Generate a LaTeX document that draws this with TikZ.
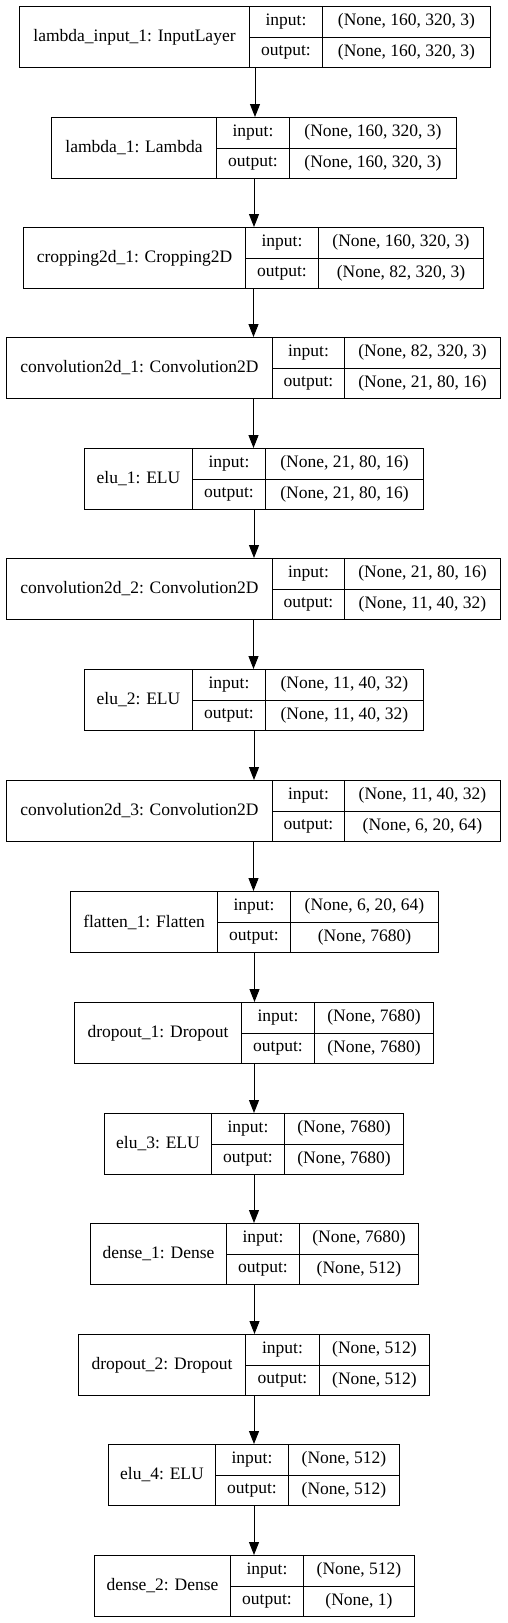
\documentclass[tikz,border=0pt]{standalone}
\usepackage{fontspec}
\setmainfont{Liberation Serif}
\usetikzlibrary{arrows.meta}

\tikzset{
  cell/.style={draw, line width=1pt, inner sep=0pt, anchor=north west, font=\fontsize{17.5}{20}\selectfont},
  flow/.style={line width=1pt, -{Triangle[length=13pt,width=10pt]}}
}

% one layer record: name, top, left, 1st divider, 2nd divider, right, label, input, output
\newcommand{\kerasbox}[9]{%
  \node[cell, minimum width={#6pt-#3pt}, minimum height=61pt] (#1) at (#3,#2) {};
  \node[cell, minimum width={#4pt-#3pt}, minimum height=61pt] (#1-name) at (#3,#2) {#7};
  \node[cell, minimum width={#5pt-#4pt}, minimum height=30.5pt] (#1-inl) at (#4,#2) {input:};
  \node[cell, minimum width={#5pt-#4pt}, minimum height=30.5pt] (#1-outl) at (#4,#2+30.5) {output:};
  \node[cell, minimum width={#6pt-#5pt}, minimum height=30.5pt] (#1-in) at (#5,#2) {#8};
  \node[cell, minimum width={#6pt-#5pt}, minimum height=30.5pt] (#1-out) at (#5,#2+30.5) {#9};
}

\begin{document}
\begin{tikzpicture}[x=1pt,y=-1pt]
\useasboundingbox (0,0) rectangle (508,1623);

%Layer records
\kerasbox{l0}{6}{19}{249}{322}{490}{lambda\_input\_1: InputLayer}{(None, 160, 320, 3)}{(None, 160, 320, 3)}
\kerasbox{l1}{117}{51}{216}{289}{456}{lambda\_1: Lambda}{(None, 160, 320, 3)}{(None, 160, 320, 3)}
\kerasbox{l2}{227}{23}{245}{318}{483}{cropping2d\_1: Cropping2D}{(None, 160, 320, 3)}{(None, 82, 320, 3)}
\kerasbox{l3}{337}{6}{272}{344}{500}{convolution2d\_1: Convolution2D}{(None, 82, 320, 3)}{(None, 21, 80, 16)}
\kerasbox{l4}{448}{84}{192}{265}{423}{elu\_1: ELU}{(None, 21, 80, 16)}{(None, 21, 80, 16)}
\kerasbox{l5}{558}{6}{272}{344}{500}{convolution2d\_2: Convolution2D}{(None, 21, 80, 16)}{(None, 11, 40, 32)}
\kerasbox{l6}{669}{84}{192}{265}{423}{elu\_2: ELU}{(None, 11, 40, 32)}{(None, 11, 40, 32)}
\kerasbox{l7}{780}{6}{272}{344}{500}{convolution2d\_3: Convolution2D}{(None, 11, 40, 32)}{(None, 6, 20, 64)}
\kerasbox{l8}{891}{70}{217}{290}{438}{flatten\_1: Flatten}{(None, 6, 20, 64)}{(None, 7680)}
\kerasbox{l9}{1002}{74}{241}{314}{433}{dropout\_1: Dropout}{(None, 7680)}{(None, 7680)}
\kerasbox{l10}{1113}{104}{211}{284}{403}{elu\_3: ELU}{(None, 7680)}{(None, 7680)}
\kerasbox{l11}{1223}{90}{226}{299}{418}{dense\_1: Dense}{(None, 7680)}{(None, 512)}
\kerasbox{l12}{1334}{78}{245}{319}{429}{dropout\_2: Dropout}{(None, 512)}{(None, 512)}
\kerasbox{l13}{1444}{108}{215}{288}{399}{elu\_4: ELU}{(None, 512)}{(None, 512)}
\kerasbox{l14}{1555}{94}{230}{303}{414}{dense\_2: Dense}{(None, 512)}{(None, 1)}

%Arrows
\foreach \a/\b in {l0/l1,l1/l2,l2/l3,l3/l4,l4/l5,l5/l6,l6/l7,l7/l8,l8/l9,l9/l10,l10/l11,l11/l12,l12/l13,l13/l14}
  \draw[flow] (\a) -- (\a.south |- \b.north);

\end{tikzpicture}
\end{document}
